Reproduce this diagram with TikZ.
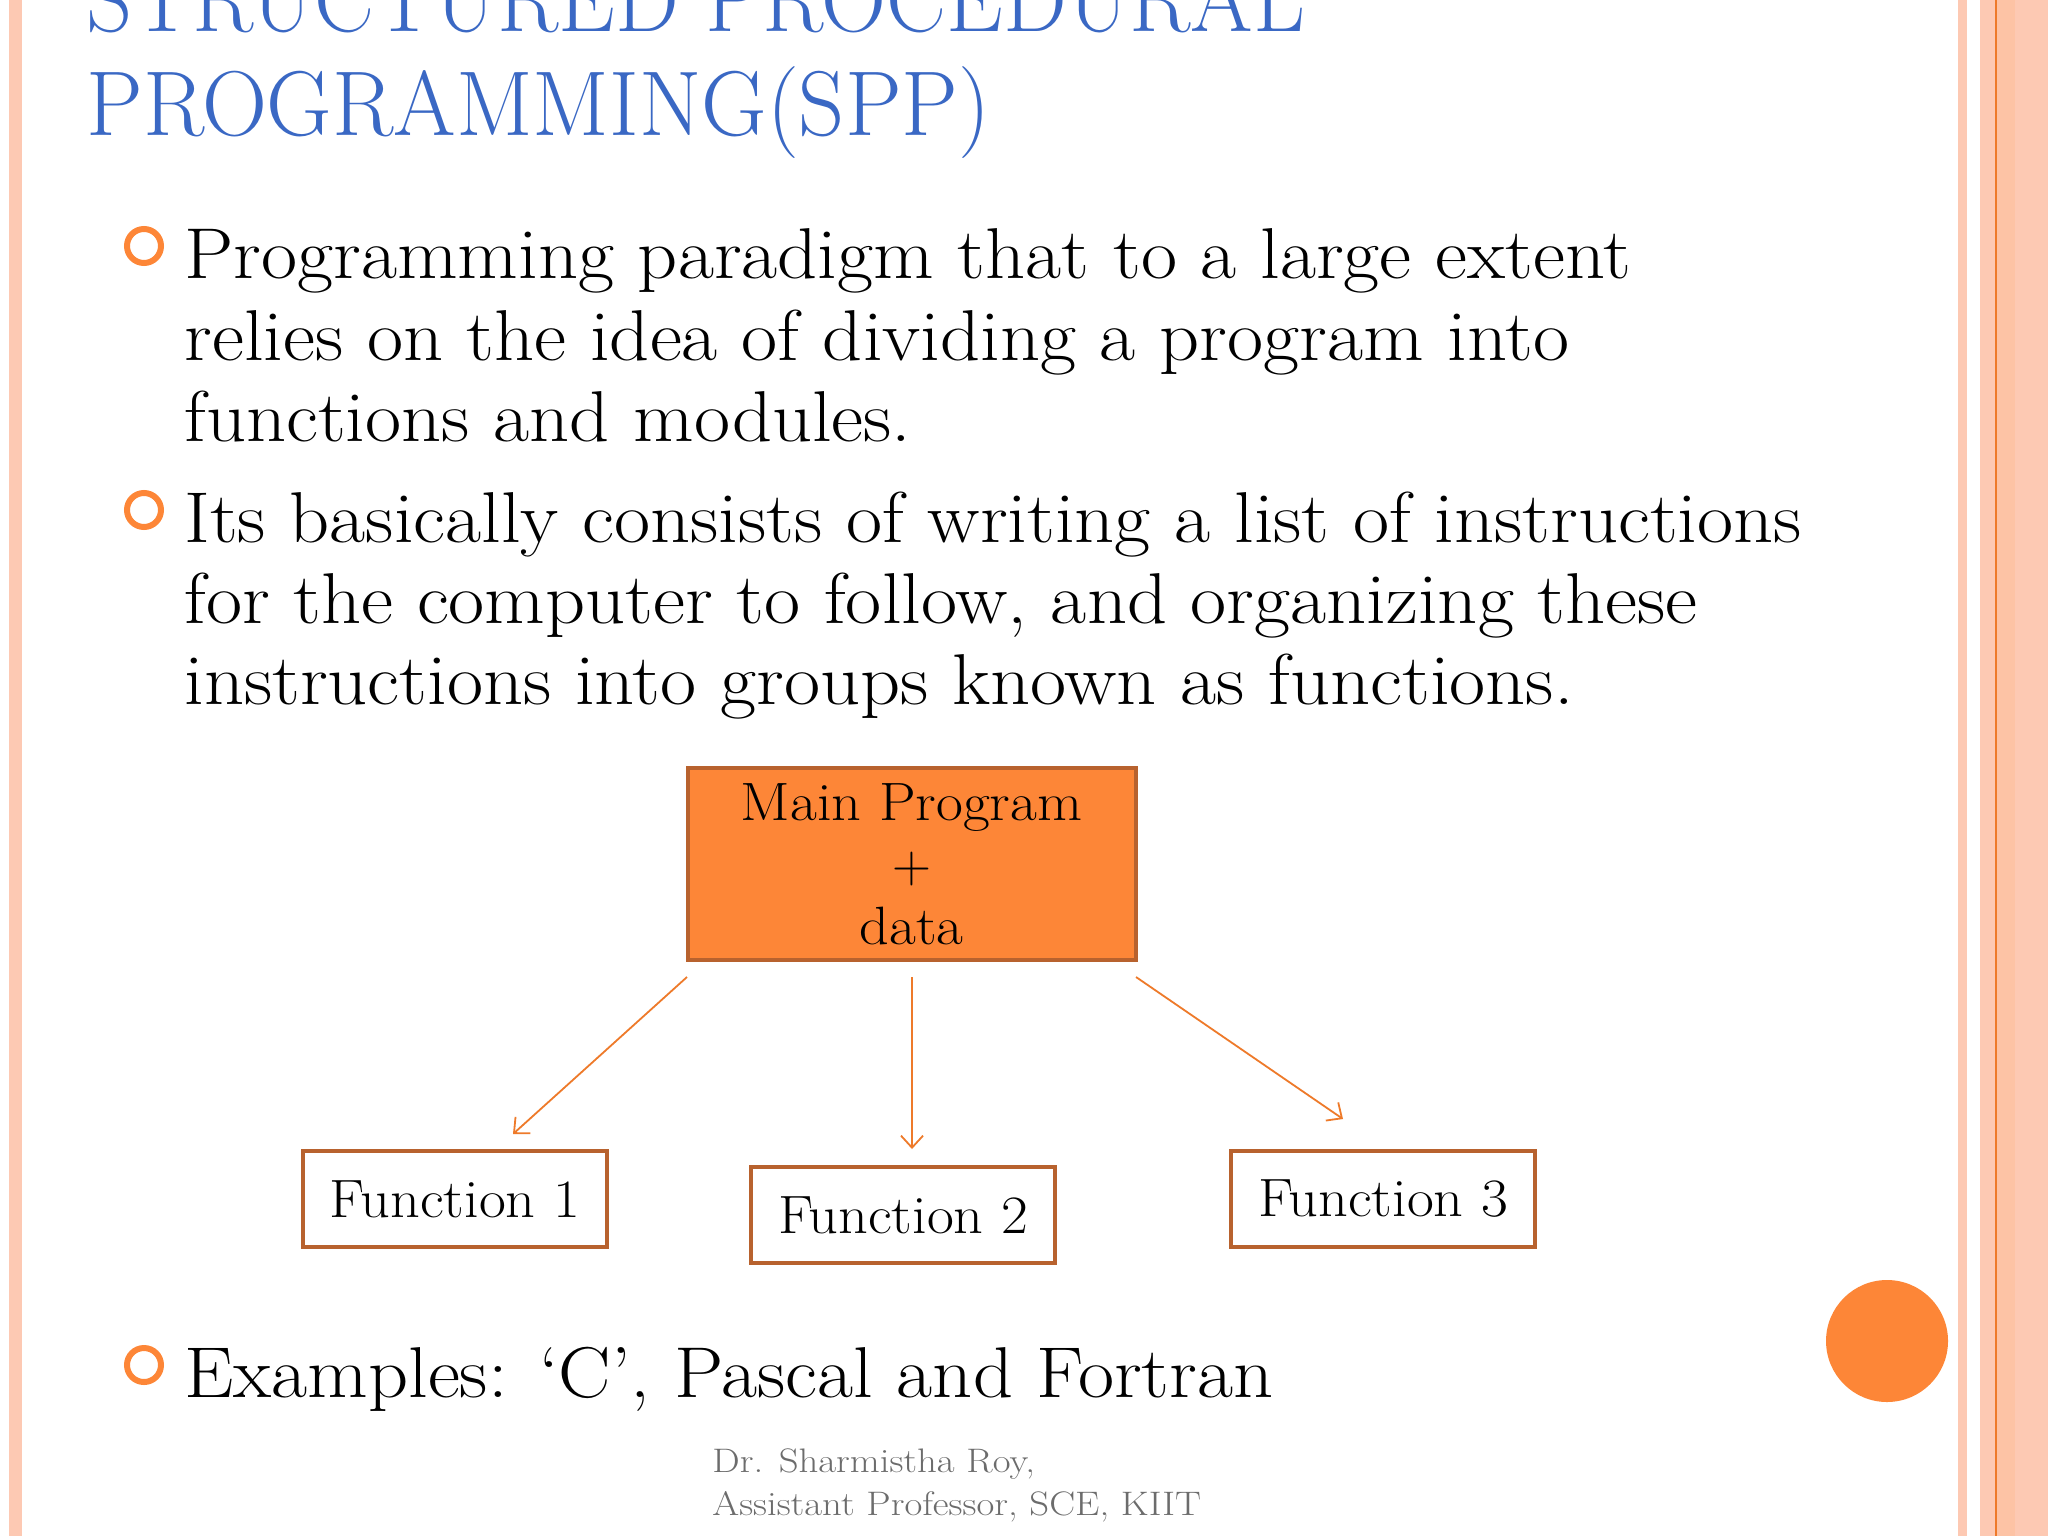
\documentclass[tikz,border=0pt]{standalone}
\usetikzlibrary{arrows.meta}
\definecolor{ttl}{HTML}{3A68C4}
\definecolor{pinkb}{HTML}{FDC9B3}
\definecolor{org}{HTML}{FD8637}
\definecolor{orgd}{HTML}{B8622E}
\definecolor{orgl}{HTML}{EE7A2A}
\newcommand{\wb}[1]{\scalebox{1.09}[1]{#1}}
\newcommand{\wf}[1]{\scalebox{1.08}[1]{#1}}
\begin{document}
\begin{tikzpicture}[x=0.5pt,y=-0.5pt,
  body/.style={anchor=base west,inner sep=0,font=\fontsize{36}{40}\selectfont},
  ttlt/.style={anchor=base west,inner sep=0,text=ttl,font=\fontsize{46}{50}\selectfont},
  fbox/.style={draw=orgd,line width=2pt,fill=white,minimum width=152pt,minimum height=48pt,inner sep=0,font=\fontsize{27}{30}\selectfont},
  bul/.style={circle,draw=org,line width=3pt,minimum size=17pt,inner sep=0},
  arr/.style={draw=orgl,line width=0.9pt,-{Straight Barb[length=6pt,width=11pt]}},
  foot/.style={anchor=base west,inner sep=0,text=gray!85!black,font=\fontsize{17}{19}\selectfont}]
\useasboundingbox (0,0) rectangle (2048,1536);
\fill[white] (0,0) rectangle (2048,1536);
% borders
\fill[pinkb] (9,0) rectangle (22,1536);
\fill[pinkb] (1958,0) rectangle (1967,1536);
\fill[pinkb] (1980,0) rectangle (2048,1536);
\fill[pinkb!92!orange] (1997,0) rectangle (2015,1536);
\draw[orgl,line width=0.6pt] (1996,0) -- (1996,1536);
% title
\node[ttlt] (t1) at (86,32) {\scalebox{0.98}[1]{STRUCTURED PROCEDURAL}};
\node[ttlt] (t2) at (86,135) {\scalebox{0.98}[1]{PROGRAMMING(SPP)}};
% bullets
\node[bul] (b1) at (144,246) {};
\node[body] (l1) at (184,278) {\wb{Programming paradigm that to a large extent}};
\node[body] (l2) at (184,360) {\wb{relies on the idea of dividing a program into}};
\node[body] (l3) at (184,441) {\wb{functions and modules.}};
\node[bul] (b2) at (144,510) {};
\node[body] (l4) at (184,542) {\wb{Its basically consists of writing a list of instructions}};
\node[body] (l5) at (184,623) {\wb{for the computer to follow, and organizing these}};
\node[body] (l6) at (184,704) {\wb{instructions into groups known as functions.}};
\node[bul] (b3) at (144,1365) {};
\node[body] (l7) at (184,1397) {\wb{Examples: `C', Pascal and Fortran}};
% diagram
\node[draw=orgd,line width=2pt,fill=org,minimum width=224pt,minimum height=96pt,inner sep=0,align=center,font=\fontsize{27}{31}\selectfont] (main) at (911.5,864) {\wf{Main Program}\\+\\\wf{data}};
\node[fbox] (f1) at (455,1199) {\wf{Function 1}};
\node[fbox] (f2) at (903,1215) {\wf{Function 2}};
\node[fbox] (f3) at (1383,1199) {\wf{Function 3}};
\coordinate (a1) at (687,977); \coordinate (e1) at (513,1134);
\coordinate (a2) at (912,977); \coordinate (e2) at (912,1149);
\coordinate (a3) at (1136,977); \coordinate (e3) at (1343,1119);
\draw[arr] (a1) -- (e1);
\draw[arr] (a2) -- (e2);
\draw[arr] (a3) -- (e3);
\fill[org] (1887,1341) circle (61);
\node[foot] (ft1) at (712,1472) {\scalebox{1.14}[1]{Dr. Sharmistha Roy,}};
\node[foot] (ft2) at (712,1515) {\scalebox{1.14}[1]{Assistant Professor, SCE, KIIT}};
\end{tikzpicture}
\end{document}
